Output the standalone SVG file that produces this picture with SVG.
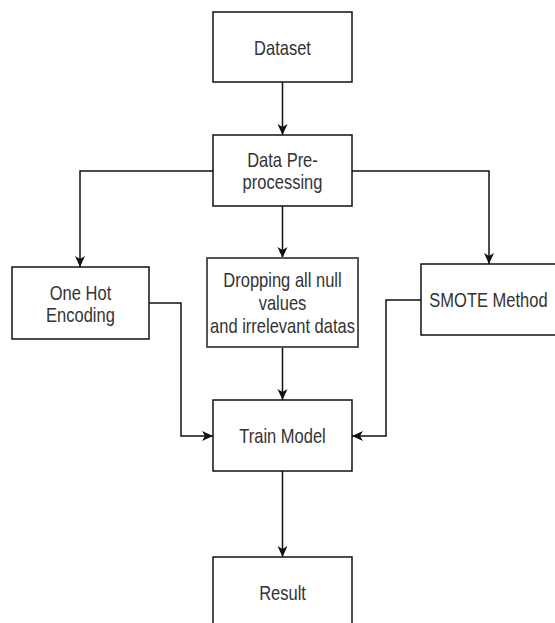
<svg xmlns="http://www.w3.org/2000/svg" width="555" height="623" viewBox="0 0 555 623">
<style>
.box{fill:#fff;stroke:#111;stroke-width:1.5}
.box2{fill:#fff;stroke:#555;stroke-width:2}
.lbl{font-family:"Liberation Sans",Arial,sans-serif;font-size:20px;fill:#333;text-anchor:middle}
.edge{fill:none;stroke:#111;stroke-width:1.5}
</style>
<defs>
<marker id="arr" markerUnits="userSpaceOnUse" markerWidth="13" markerHeight="11" refX="11" refY="5" orient="auto">
<path d="M0,0 L11,5 L0,10 L3,5 z" fill="#111"/>
</marker>
</defs>
<rect width="555" height="623" fill="#fff"/>
<g id="connectors">
<path class="edge" d="M282.5,82 V135" marker-end="url(#arr)"/>
<path class="edge" d="M213,171 H80 V267" marker-end="url(#arr)"/>
<path class="edge" d="M282.5,206 V258" marker-end="url(#arr)"/>
<path class="edge" d="M352,171 H489 V264" marker-end="url(#arr)"/>
<path class="edge" d="M149,303 H181 V436 H213" marker-end="url(#arr)"/>
<path class="edge" d="M282.5,347 V400" marker-end="url(#arr)"/>
<path class="edge" d="M421,300 H386 V436 H352" marker-end="url(#arr)"/>
<path class="edge" d="M282.5,471 V557" marker-end="url(#arr)"/>
</g>
<g id="dataset">
<rect class="box" x="213" y="12" width="139" height="70"/>
<text class="lbl" transform="translate(282.5,55) scale(0.825,1)">Dataset</text>
</g>
<g id="preprocessing">
<rect class="box" x="213" y="135" width="139" height="71"/>
<text class="lbl" transform="translate(282.5,166.5) scale(0.825,1)">Data Pre-</text>
<text class="lbl" transform="translate(282.5,189) scale(0.825,1)">processing</text>
</g>
<g id="onehot">
<rect class="box" x="12" y="267" width="137" height="72"/>
<text class="lbl" transform="translate(80.5,299.5) scale(0.825,1)">One Hot</text>
<text class="lbl" transform="translate(80.5,322) scale(0.825,1)">Encoding</text>
</g>
<g id="dropping">
<rect class="box2" x="207" y="258" width="151" height="89"/>
<text class="lbl" transform="translate(282.5,287) scale(0.825,1)">Dropping all null</text>
<text class="lbl" transform="translate(282.5,310) scale(0.825,1)">values</text>
<text class="lbl" transform="translate(282.5,333) scale(0.825,1)">and irrelevant datas</text>
</g>
<g id="smote">
<rect class="box" x="421" y="264" width="137" height="71"/>
<text class="lbl" transform="translate(488.5,307) scale(0.825,1)">SMOTE Method</text>
</g>
<g id="train">
<rect class="box" x="213" y="400" width="139" height="71"/>
<text class="lbl" transform="translate(282.5,443) scale(0.825,1)">Train Model</text>
</g>
<g id="result">
<rect class="box" x="213" y="557" width="139" height="71"/>
<text class="lbl" transform="translate(282.5,600) scale(0.825,1)">Result</text>
</g>
</svg>
